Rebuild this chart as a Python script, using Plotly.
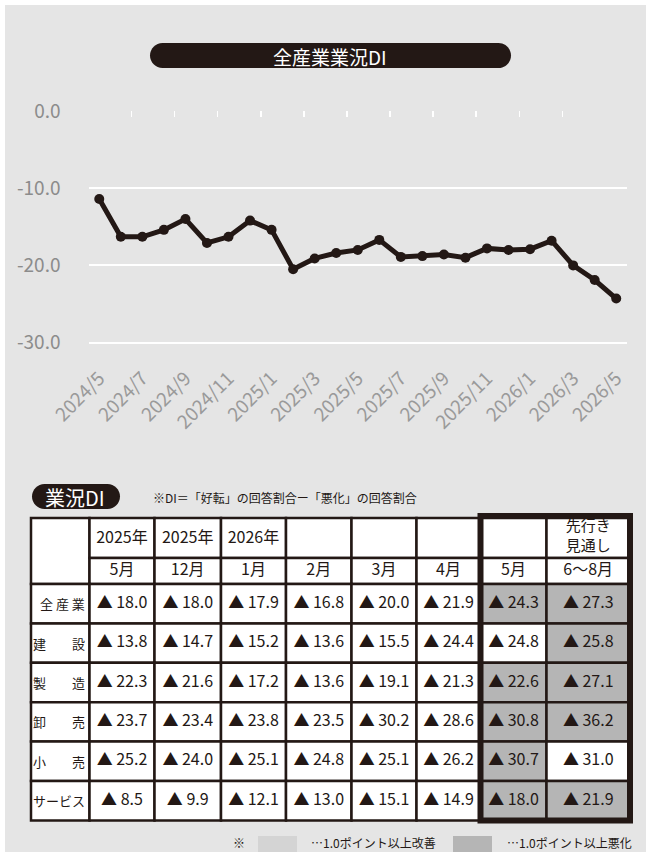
import plotly.graph_objects as go

# ---------------- data ----------------
months = ["2024/5", "2024/6", "2024/7", "2024/8", "2024/9", "2024/10", "2024/11", "2024/12",
          "2025/1", "2025/2", "2025/3", "2025/4", "2025/5", "2025/6", "2025/7", "2025/8",
          "2025/9", "2025/10", "2025/11", "2025/12", "2026/1", "2026/2", "2026/3", "2026/4", "2026/5"]
di_all = [-11.4, -16.3, -16.3, -15.4, -14.0, -17.1, -16.3, -14.2,
          -15.4, -20.5, -19.1, -18.4, -18.0, -16.7, -18.9, -18.8,
          -18.6, -19.0, -17.8, -18.0, -17.9, -16.8, -20.0, -21.9, -24.3]
y_ticks = [0, -10, -20, -30]

tbl_years = ["2025年", "2025年", "2026年", "", "", "", "", "先行き<br>見通し"]
tbl_months = ["5月", "12月", "1月", "2月", "3月", "4月", "5月", "6～8月"]
industries = ["全 産 業", "建　　設", "製　　造", "卸　　売", "小　　売", "サービス"]
di_total = [-18.0, -18.0, -17.9, -16.8, -20.0, -21.9, -24.3, -27.3]
di_construction = [-13.8, -14.7, -15.2, -13.6, -15.5, -24.4, -24.8, -25.8]
di_manufacturing = [-22.3, -21.6, -17.2, -13.6, -19.1, -21.3, -22.6, -27.1]
di_wholesale = [-23.7, -23.4, -23.8, -23.5, -30.2, -28.6, -30.8, -36.2]
di_retail = [-25.2, -24.0, -25.1, -24.8, -25.1, -26.2, -30.7, -31.0]
di_service = [-8.5, -9.9, -12.1, -13.0, -15.1, -14.9, -18.0, -21.9]
table_rows = [di_total, di_construction, di_manufacturing, di_wholesale, di_retail, di_service]
compare_cols = [6, 7]  # columns compared with previous column for shading

# ---------------- styles ----------------
FONT = "Noto Sans CJK JP, Noto Sans, sans-serif"
INK = "#231815"
PANEL = "#e5e5e5"
WORSE = "#b5b5b5"
BETTER = "#d4d4d4"
W, H = 651, 852
Y_MIN, Y_MAX = -32.6, 0.05
PLOT_TOP = 110.6
PX_PER_UNIT = 7.72

col_edges = [31, 89.5, 154.5, 221, 286, 351.5, 416.5, 480.5, 546.5, 630]
hdr_edges = [518, 558, 584]
row_h = 39.4

def fmt(v):
    return ("▲ " if v < 0 else "") + f"{abs(v):.1f}"

def pill(x0, x1, y0, y1):
    r = (y1 - y0) / 2
    k = 0.5523 * r
    return (f"M{x0+r},{y0} L{x1-r},{y0} C{x1-r+k},{y0} {x1},{y0+r-k} {x1},{y0+r} "
            f"C{x1},{y0+r+k} {x1-r+k},{y1} {x1-r},{y1} L{x0+r},{y1} "
            f"C{x0+r-k},{y1} {x0},{y0+r+k} {x0},{y0+r} C{x0},{y0+r-k} {x0+r-k},{y0} {x0+r},{y0} Z")

fig = go.Figure()

# ---------------- line chart ----------------
xs = list(range(len(months)))
fig.add_trace(go.Scatter(x=xs, y=di_all, mode="lines+markers",
                         line=dict(color=INK, width=5),
                         marker=dict(color=INK, size=10),
                         hoverinfo="skip", xaxis="x", yaxis="y"))
# invisible trace to activate the tick axis on the 0 line
fig.add_trace(go.Scatter(x=[xs[0]], y=[None], mode="markers", hoverinfo="skip",
                         xaxis="x2", yaxis="y", showlegend=False))

# ---------------- table (pixel-space axes) ----------------
shapes = []
shapes.append(dict(type="rect", xref="paper", yref="paper", x0=5 / W, x1=646 / W,
                   y0=-0.02, y1=1 - 5 / H, fillcolor=PANEL, line=dict(width=0), layer="below"))
shapes.append(dict(type="path", xref="x3", yref="y3", path=pill(150, 511, 43, 68),
                   fillcolor=INK, line=dict(width=0), layer="below"))
shapes.append(dict(type="path", xref="x3", yref="y3", path=pill(32, 120, 484, 509),
                   fillcolor=INK, line=dict(width=0), layer="below"))

ncols = len(tbl_months)
cell_line = dict(color=INK, width=2.5)
shapes.append(dict(type="rect", xref="x3", yref="y3", x0=col_edges[0], x1=col_edges[1],
                   y0=hdr_edges[0], y1=hdr_edges[2], fillcolor="white", line=cell_line, layer="below"))
for c in range(ncols):
    for r in range(2):
        shapes.append(dict(type="rect", xref="x3", yref="y3", x0=col_edges[c + 1], x1=col_edges[c + 2],
                           y0=hdr_edges[r], y1=hdr_edges[r + 1], fillcolor="white", line=cell_line,
                           layer="below"))

row_tops = [hdr_edges[2] + i * row_h for i in range(len(industries) + 1)]
val_x, val_y, val_t = [], [], []
for i, (name, vals) in enumerate(zip(industries, table_rows)):
    y0, y1 = row_tops[i], row_tops[i + 1]
    shapes.append(dict(type="rect", xref="x3", yref="y3", x0=col_edges[0], x1=col_edges[1],
                       y0=y0, y1=y1, fillcolor="white", line=cell_line, layer="below"))
    for c, v in enumerate(vals):
        fill = "white"
        if c in compare_cols:
            d = round(v - vals[c - 1], 1)
            if d <= -1.0:
                fill = WORSE
            elif d >= 1.0:
                fill = BETTER
        shapes.append(dict(type="rect", xref="x3", yref="y3", x0=col_edges[c + 1], x1=col_edges[c + 2],
                           y0=y0, y1=y1, fillcolor=fill, line=cell_line, layer="below"))
        val_x.append((col_edges[c + 1] + col_edges[c + 2]) / 2)
        val_y.append((y0 + y1) / 2)
        val_t.append(fmt(v))

shapes.append(dict(type="rect", xref="x3", yref="y3", x0=col_edges[7], x1=col_edges[9],
                   y0=hdr_edges[0] - 2, y1=row_tops[-1], line=dict(color=INK, width=6), layer="above"))

shapes.append(dict(type="rect", xref="x3", yref="y3", x0=258, x1=297, y0=836, y1=860,
                   fillcolor=BETTER, line=dict(width=0), layer="below"))
shapes.append(dict(type="rect", xref="x3", yref="y3", x0=453, x1=492, y0=836, y1=860,
                   fillcolor=WORSE, line=dict(width=0), layer="below"))

fig.add_trace(go.Scatter(x=val_x, y=val_y, text=val_t, mode="text",
                         textfont=dict(family=FONT, size=16, color=INK),
                         hoverinfo="skip", xaxis="x3", yaxis="y3", cliponaxis=False))

hx, hy, ht, hs = [], [], [], []
for c in range(ncols):
    cx = (col_edges[c + 1] + col_edges[c + 2]) / 2
    multi = "<br>" in tbl_years[c]
    hx += [cx, cx]
    hy += [(hdr_edges[0] + hdr_edges[1]) / 2 + (-1 if multi else 1), (hdr_edges[1] + hdr_edges[2]) / 2]
    ht += [tbl_years[c], tbl_months[c]]
    hs += [15 if multi else 16, 16]
fig.add_trace(go.Scatter(x=hx, y=hy, text=ht, mode="text",
                         textfont=dict(family=FONT, size=hs, color=INK),
                         hoverinfo="skip", xaxis="x3", yaxis="y3", cliponaxis=False))

annotations = []
for i, name in enumerate(industries):
    annotations.append(dict(xref="x3", yref="y3", x=col_edges[1] - 3,
                            y=(row_tops[i] + row_tops[i + 1]) / 2, text=name,
                            showarrow=False, xanchor="right", yanchor="middle",
                            font=dict(family=FONT, size=13, color=INK)))
annotations += [
    dict(xref="x3", yref="y3", x=330, y=56, text="全産業業況DI", showarrow=False,
         font=dict(family=FONT, size=19, color="white"), xanchor="center", yanchor="middle"),
    dict(xref="x3", yref="y3", x=75, y=497, text="業況DI", showarrow=False,
         font=dict(family=FONT, size=20, color="white"), xanchor="center", yanchor="middle"),
    dict(xref="x3", yref="y3", x=151, y=497, text="※DI＝「好転」の回答割合ー「悪化」の回答割合",
         showarrow=False, font=dict(family=FONT, size=12, color=INK), xanchor="left", yanchor="middle"),
    dict(xref="x3", yref="y3", x=239, y=842, text="※", showarrow=False,
         font=dict(family=FONT, size=12, color=INK), xanchor="center", yanchor="middle"),
    dict(xref="x3", yref="y3", x=309, y=842, text="…1.0ポイント以上改善", showarrow=False,
         font=dict(family=FONT, size=12, color=INK), xanchor="left", yanchor="middle"),
    dict(xref="x3", yref="y3", x=505, y=842, text="…1.0ポイント以上悪化", showarrow=False,
         font=dict(family=FONT, size=12, color=INK), xanchor="left", yanchor="middle"),
]

plot_bottom = PLOT_TOP + (Y_MAX - Y_MIN) * PX_PER_UNIT
x_tick_idx = xs[::2]
fig.update_layout(
    width=W, height=H, autosize=False,
    margin=dict(l=0, r=0, t=0, b=0, pad=0),
    paper_bgcolor="white", plot_bgcolor="rgba(0,0,0,0)",
    showlegend=False, hovermode=False,
    font=dict(family=FONT, color=INK),
    xaxis=dict(domain=[88.5 / W, 627 / W], range=[-0.5, len(months) - 0.5],
               tickmode="array", tickvals=x_tick_idx, ticktext=[months[i] for i in x_tick_idx],
               tickangle=-45, tickfont=dict(family=FONT, size=19, color="#9a9a9a"),
               showgrid=False, zeroline=False, showline=False, ticks="", anchor="y",
               fixedrange=True, automargin=False),
    xaxis2=dict(overlaying="x", side="top", range=[-0.5, len(months) - 0.5],
                tickmode="array", tickvals=[i - 0.5 for i in xs[::2][:-1]],
                ticks="inside", ticklen=6, tickwidth=1.5, tickcolor="white",
                showticklabels=False, showgrid=False, zeroline=False, showline=False,
                anchor="y", fixedrange=True, automargin=False),
    yaxis=dict(domain=[1 - plot_bottom / H, 1 - PLOT_TOP / H], range=[Y_MIN, Y_MAX],
               tickmode="array", tickvals=y_ticks, ticktext=[f"{v:.1f}" for v in y_ticks],
               tickfont=dict(family=FONT, size=19, color="#8c8c8c"),
               showgrid=True, gridcolor="white", gridwidth=2, zeroline=False, showline=False,
               ticks="", ticklabelstandoff=27, fixedrange=True, automargin=False),
    xaxis3=dict(domain=[0, 1], range=[0, W], visible=False, anchor="y3", fixedrange=True,
                automargin=False),
    yaxis3=dict(domain=[0, 1], range=[H, 0], visible=False, anchor="x3", fixedrange=True,
                automargin=False),
    shapes=shapes, annotations=annotations,
)

fig.write_html("out.html", config={"displayModeBar": False, "staticPlot": True},
               post_script="document.body.style.margin='0px';")
